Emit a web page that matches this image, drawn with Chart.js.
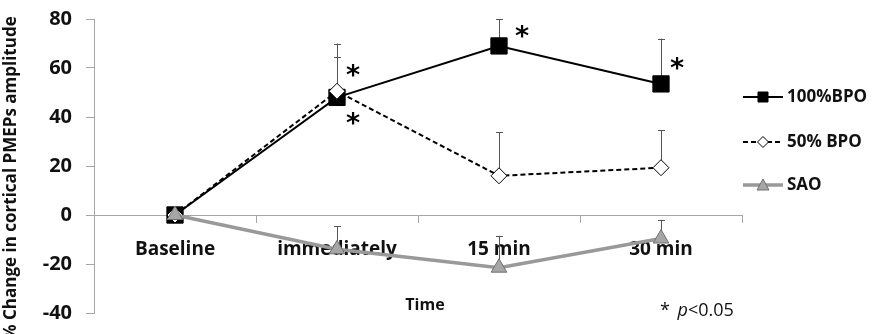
<!DOCTYPE html>
<html>
<head>
<meta charset="utf-8">
<script src="https://cdn.jsdelivr.net/npm/chart.js@4/dist/chart.umd.min.js"></script>
<style>
html,body{margin:0;padding:0;background:#fff;}
#wrap{width:872px;height:334px;position:relative;}
</style>
</head>
<body>
<div id="wrap"><canvas id="c" width="872" height="334"></canvas></div>
<script>
// ---- data ----
const categories = ['Baseline', 'immediately', '15 min', '30 min'];
const bpo100 = [0, 48, 69, 53.5];
const bpo100Err = [null, 16.5, 11, 18.5];
const bpo50 = [0, 50.5, 16, 19.3];
const bpo50Err = [null, 19.5, 17.7, 15.3];
const sao = [0, -14, -21.5, -9.6];
const saoErr = [null, 9.5, 13, 7.6];
const yTicks = [-40, -20, 0, 20, 40, 60, 80];
const seriesNames = ['100%BPO', '50% BPO', 'SAO'];
const yTitle = '% Change in cortical PMEPs amplitude';
const xTitle = 'Time';
// significance marks: [dataset index, category index, side]
const sigMarks = [[1, 1, 'above'], [0, 1, 'below'], [0, 2, 'above'], [0, 3, 'above']];
const noteText = ['* ', 'p', '<0.05'];

const errArrays = [bpo100Err, bpo50Err, saoErr];

const errorBarPlugin = {
  id: 'errorBars',
  beforeDatasetsDraw(chart) {
    const ctx = chart.ctx;
    const y = chart.scales.y;
    ctx.save();
    ctx.strokeStyle = '#555';
    ctx.lineWidth = 1;
    chart.data.datasets.forEach((ds, i) => {
      const meta = chart.getDatasetMeta(i);
      const errs = errArrays[i];
      meta.data.forEach((pt, j) => {
        const e = errs[j];
        if (e == null) return;
        const top = y.getPixelForValue(ds.data[j] + e);
        const x = Math.round(pt.x) + 0.5;
        ctx.beginPath();
        ctx.moveTo(x, pt.y);
        ctx.lineTo(x, top);
        ctx.moveTo(x - 3.5, Math.round(top) + 0.5);
        ctx.lineTo(x + 3.5, Math.round(top) + 0.5);
        ctx.stroke();
      });
    });
    ctx.restore();
  }
};

const annotPlugin = {
  id: 'annot',
  afterDraw(chart) {
    const ctx = chart.ctx;
    ctx.save();
    // asterisks
    ctx.fillStyle = '#000';
    ctx.font = 'bold 27px "DejaVu Sans"';
    ctx.textAlign = 'center';
    ctx.textBaseline = 'middle';
    sigMarks.forEach(([di, ci, side]) => {
      const pt = chart.getDatasetMeta(di).data[ci];
      const dx = (ci === 2) ? 23 : 16;
      const dy = side === 'above' ? (ci === 2 ? -14 : -20) : 22;
      ctx.fillText('*', pt.x + dx, pt.y + dy + 6);
    });
    // y title
    ctx.save();
    ctx.translate(11, 178);
    ctx.rotate(-Math.PI / 2);
    ctx.font = 'bold 17px "Open Sans"';
    ctx.textAlign = 'center';
    ctx.textBaseline = 'middle';
    ctx.fillStyle = '#111';
    ctx.fillText(yTitle, 0, 0);
    ctx.restore();
    // x title
    ctx.font = 'bold 16px "Open Sans"';
    ctx.textAlign = 'center';
    ctx.textBaseline = 'middle';
    ctx.fillStyle = '#111';
    ctx.fillText(xTitle, 425, 305);
    // note
    ctx.textAlign = 'left';
    let nx = 660;
    const ny = 311;
    ctx.font = '18px "Open Sans"';
    ctx.fillText(noteText[0], nx, ny);
    nx += ctx.measureText(noteText[0]).width + 3;
    ctx.font = 'italic 18px "Open Sans"';
    ctx.fillText(noteText[1], nx, ny);
    nx += ctx.measureText(noteText[1]).width;
    ctx.font = '18px "Open Sans"';
    ctx.fillText(noteText[2], nx, ny);
    // legend
    const ly = [97, 142, 185];
    chart.data.datasets.forEach((ds, i) => {
      const yy = ly[i];
      ctx.save();
      ctx.strokeStyle = ds.borderColor;
      ctx.lineWidth = ds.borderWidth;
      ctx.setLineDash(ds.borderDash || []);
      ctx.beginPath();
      ctx.moveTo(743, yy);
      ctx.lineTo(783, yy);
      ctx.stroke();
      ctx.restore();
      ctx.fillStyle = ds.pointBackgroundColor;
      ctx.strokeStyle = ds.pointBorderColor;
      ctx.lineWidth = 1;
      ctx.beginPath();
      if (ds.pointStyle === 'rect') {
        ctx.rect(763 - 5, yy - 5, 10, 10);
      } else if (ds.pointStyle === 'rectRot') {
        ctx.moveTo(763, yy - 5.5); ctx.lineTo(768.5, yy); ctx.lineTo(763, yy + 5.5); ctx.lineTo(757.5, yy); ctx.closePath();
      } else {
        ctx.moveTo(763, yy - 6); ctx.lineTo(769, yy + 5); ctx.lineTo(757, yy + 5); ctx.closePath();
      }
      ctx.fill(); ctx.stroke();
      ctx.fillStyle = '#111';
      ctx.font = 'bold 17px "Open Sans"';
      ctx.textAlign = 'left';
      ctx.textBaseline = 'middle';
      ctx.fillText(seriesNames[i], 787, yy);
    });
    ctx.restore();
  }
};

const axisGray = '#a6a6a6';
new Chart(document.getElementById('c'), {
  type: 'line',
  data: {
    labels: categories,
    datasets: [
      {
        label: seriesNames[0], data: bpo100, order: 3,
        borderColor: '#000', borderWidth: 2,
        pointStyle: 'rect', pointRadius: 11.5, pointHoverRadius: 11.5,
        pointBackgroundColor: '#000', pointBorderColor: '#000', pointBorderWidth: 1
      },
      {
        label: seriesNames[1], data: bpo50, order: 2,
        borderColor: '#000', borderWidth: 2, borderDash: [5, 3],
        pointStyle: 'rectRot', pointRadius: 8, pointHoverRadius: 8,
        pointBackgroundColor: '#fff', pointBorderColor: '#000', pointBorderWidth: 1
      },
      {
        label: seriesNames[2], data: sao, order: 1,
        borderColor: '#999', borderWidth: 3.5,
        pointStyle: 'triangle', pointRadius: 9, pointHoverRadius: 9,
        pointBackgroundColor: '#a6a6a6', pointBorderColor: '#707070', pointBorderWidth: 1
      }
    ]
  },
  options: {
    responsive: false,
    animation: false,
    layout: { padding: { top: 19, bottom: 21, right: 130, left: 0 } },
    plugins: { legend: { display: false }, tooltip: { enabled: false } },
    scales: {
      x: {
        type: 'category',
        offset: true,
        position: { y: 0 },
        afterFit(scale) { scale.paddingLeft = 0; scale.paddingRight = 0; },
        grid: { offset: true, drawOnChartArea: false, drawTicks: true, tickLength: 7, color: axisGray },
        border: { color: axisGray, width: 1 },
        ticks: { color: '#111', font: { family: 'Open Sans', weight: 'bold', size: 19 }, padding: 16 }
      },
      y: {
        min: -40, max: 80,
        afterBuildTicks(scale) { scale.ticks = yTicks.map(v => ({ value: v })); },
        afterFit(scale) { scale.width = 94; scale.paddingTop = 0; scale.paddingBottom = 0; },
        grid: { drawOnChartArea: false, drawTicks: true, tickLength: 8, color: axisGray },
        border: { color: axisGray, width: 1 },
        ticks: { color: '#111', font: { family: 'Open Sans', weight: 'bold', size: 20 }, padding: 14 }
      }
    }
  },
  plugins: [errorBarPlugin, annotPlugin]
});
</script>
</body>
</html>
